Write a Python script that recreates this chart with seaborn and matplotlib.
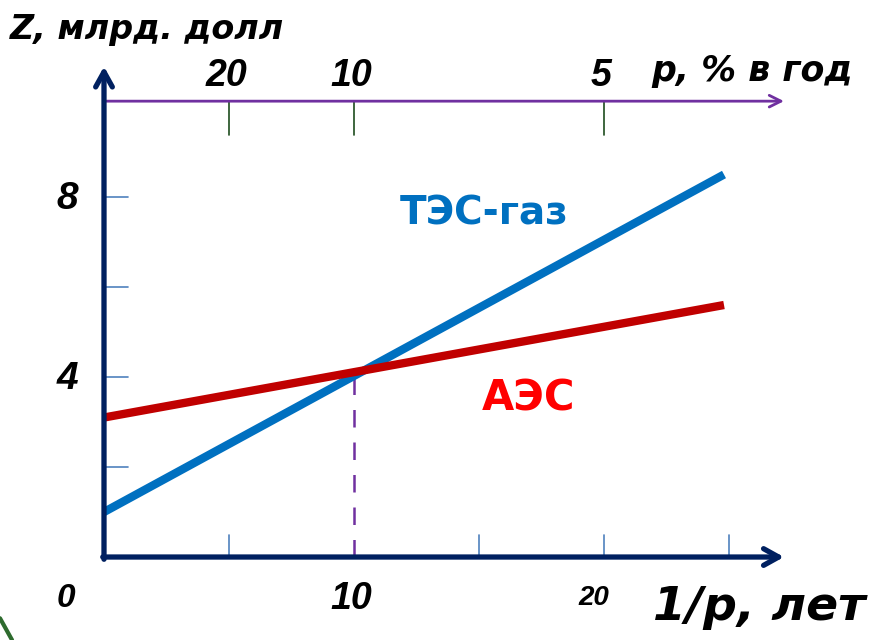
import matplotlib
matplotlib.use("Agg")
import matplotlib.pyplot as plt
from matplotlib.lines import Line2D
import seaborn as sb
import pandas as pd

# %% data
years = [0, 24.8]                 # 1/p, лет
tes_gas = [1.0, 8.5]              # ТЭС-газ, Z
aes = [3.1, 5.6]                  # АЭС, Z
cross_x = 10
cross_y = 4.1
x_ticks = [5, 10, 15, 20, 25]
x_labels = {0: "0", 10: "10", 20: "20"}
y_ticks = [2, 4, 6, 8]
y_labels = {4: "4", 8: "8"}
p_ticks = [5, 10, 20]            # positions on 1/p axis
p_labels = ["20", "10", "5"]     # p, % в год

# %% style
sb.set_theme(style="white")
plt.rcParams["font.family"] = ["Liberation Sans", "DejaVu Sans"]

NAVY = "#002060"
PURPLE = "#7030A0"
BLUE = "#0070C0"
DARKRED = "#C00000"
TICKBLUE = "#4F81BD"
GREEN = "#1E4D1E"
WIDE = ["DejaVu Sans"]

fig = plt.figure(figsize=(8.79, 6.4), dpi=100)
ax = fig.add_axes([0, 0, 1, 1])
ax.set_xlim(-4.16, 31.0)
ax.set_ylim(-1.844, 12.378)
ax.axis("off")

df = pd.DataFrame({"x": years * 2,
                   "z": tes_gas + aes,
                   "s": ["ТЭС-газ"] * 2 + ["АЭС"] * 2})
sb.lineplot(data=df, x="x", y="z", hue="s", palette={"ТЭС-газ": BLUE, "АЭС": DARKRED},
            linewidth=6, legend=False, ax=ax, solid_capstyle="butt", zorder=5)

# dashed drop line at the crossing
ax.plot([cross_x, cross_x], [0, cross_y], color=PURPLE, lw=1.8, dashes=(7, 6), zorder=3)

# axes with arrows
ax.annotate("", xy=(27.2, 0), xytext=(-0.05, 0),
            arrowprops=dict(arrowstyle="->,head_length=0.9,head_width=0.5", color=NAVY, lw=3.8,
                            shrinkA=0, shrinkB=0), zorder=6)
ax.annotate("", xy=(0, 10.9), xytext=(0, -0.05),
            arrowprops=dict(arrowstyle="->,head_length=0.9,head_width=0.5", color=NAVY, lw=3.8,
                            shrinkA=0, shrinkB=0), zorder=6)
ax.annotate("", xy=(27.2, 10.13), xytext=(0.1, 10.13),
            arrowprops=dict(arrowstyle="->,head_length=0.7,head_width=0.35", color=PURPLE, lw=2,
                            shrinkA=0, shrinkB=0), zorder=4)

# tick marks
for t in x_ticks:
    if t != cross_x:
        ax.plot([t, t], [0, 0.5], color=TICKBLUE, lw=1.2, zorder=2)
for t in y_ticks:
    ax.plot([0, 0.95], [t, t], color=TICKBLUE, lw=1.2, zorder=2)
for t in p_ticks:
    ax.plot([t, t], [10.13, 9.38], color=GREEN, lw=1.2, zorder=2)

# tick labels
tf = dict(fontweight="bold", fontstyle="italic", color="black")
for v, s in y_labels.items():
    ax.text(-1.45, v - 0.05, s, ha="center", va="center", fontsize=28, **tf)
ax.text(-1.52, -0.93, x_labels[0], ha="center", va="center", fontsize=24, **tf)
ax.text(9.9, -0.93, x_labels[10], ha="center", va="center", fontsize=27, **tf)
ax.text(19.6, -0.9, x_labels[20], ha="center", va="center", fontsize=20, **tf)
for t, s in zip(p_ticks, p_labels):
    ax.text(t - 0.1, 10.7, s, ha="center", va="center", fontsize=27, **tf)

# axis titles
ax.text(-3.75, 11.72, "Z, млрд. долл", ha="left", va="center", fontsize=24, family=WIDE, **tf)
ax.text(21.9, 10.8, "p, % в год", ha="left", va="center", fontsize=25, family=WIDE, **tf)
ax.text(21.95, -1.12, "1/р, лет", ha="left", va="center", fontsize=34, family=WIDE, **tf)

# series labels
ax.text(11.85, 7.64, "ТЭС-газ", ha="left", va="center", fontsize=28,
        fontweight="bold", color=BLUE, family=WIDE)
ax.text(15.1, 3.53, "АЭС", ha="left", va="center", fontsize=30,
        fontweight="bold", color="#FF0000", family=WIDE)

# slide decoration at bottom-left corner
fig.add_artist(Line2D([0.0, 0.0137], [0.034, 0.0], transform=fig.transFigure,
                      color="#2E6B2E", lw=3))

fig.savefig("out.png", dpi=100)
